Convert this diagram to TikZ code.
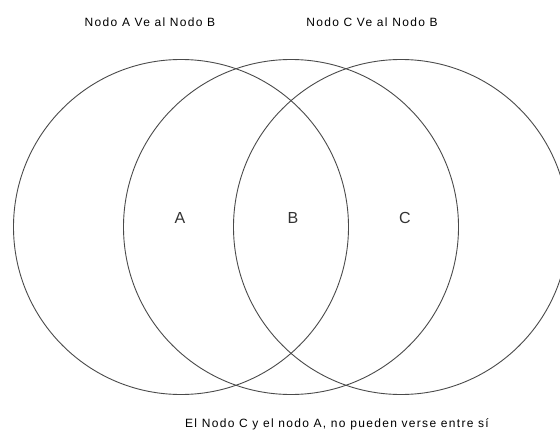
\documentclass[tikz,border=0pt]{standalone}
\usepackage{fontspec}
\setmainfont{Liberation Sans}
\newfontfamily\notafont[LetterSpace=11]{Liberation Sans}
\usetikzlibrary{positioning}
\definecolor{ringgray}{HTML}{4A4A4A}
\tikzset{
  % anillos
  ring/.style={circle,draw=ringgray,line width=0.9pt,inner sep=0pt,
               minimum size=335pt},
  zona/.style={font=\fontsize{16}{18}\selectfont,text=black!80},
  % textos
  nota/.style={font=\notafont\fontsize{12}{14}\selectfont,inner sep=0pt},
}
\begin{document}
\begin{tikzpicture}[x=1pt,y=-1pt]
\useasboundingbox (0,0) rectangle (560,436);
  \begin{scope}
  \clip (0,0) rectangle (560,436);
  \node[ring] (izq) at (181,227) {};
  \node[ring] (cen) at (291,227) {};
  \node[ring] (der) at (401,227) {};
  \end{scope}
  \node[zona] (A) at (180,218) {A};
  \node[zona] (B) at (293,218) {B};
  \node[zona] (C) at (405,218) {C};
  \node[nota] (notaA) at (150,22) {Nodo A Ve al Nodo B};
  \node[nota] (notaC) at (372,22) {Nodo C Ve al Nodo B};
  \node[nota] (notaAC) at (337,424) {El Nodo C y el nodo A, no pueden verse entre sí};
\end{tikzpicture}
\end{document}
